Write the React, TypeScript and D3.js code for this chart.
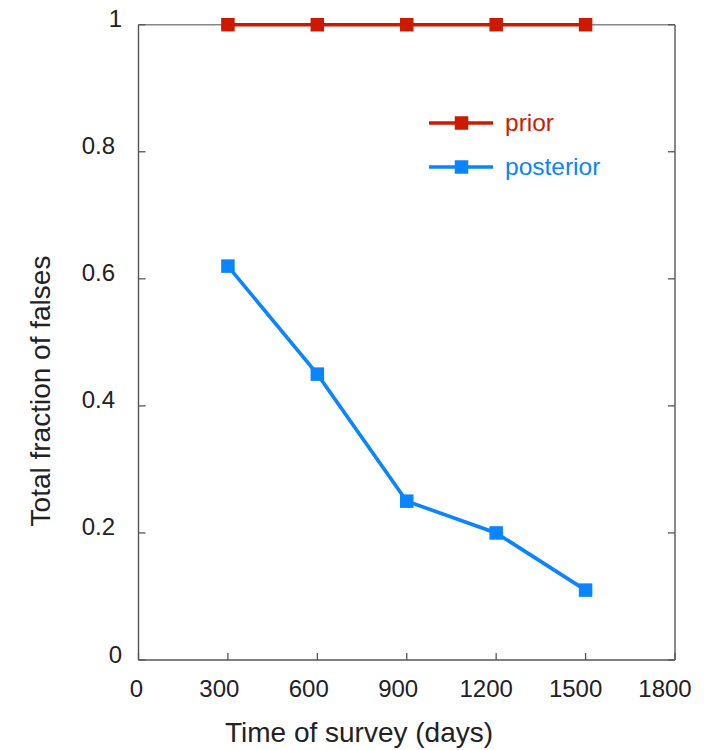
import React from "react";
import * as d3 from "d3";

// Survey durations (days) and the fraction of false detections at each
const surveyDays = [300, 600, 900, 1200, 1500];
const priorFraction = [1, 1, 1, 1, 1];
const posteriorFraction = [0.62, 0.45, 0.25, 0.2, 0.11];

const xTickValues = [0, 300, 600, 900, 1200, 1500, 1800];
const yTickValues = [0, 0.2, 0.4, 0.6, 0.8, 1];
const yTickLabels = ["0", "0.2", "0.4", "0.6", "0.8", "1"];

const seriesNames = ["prior", "posterior"];

const WIDTH = 707;
const HEIGHT = 750;
const FONT = "'Liberation Sans', Arial, Helvetica, sans-serif";
const RED = "#cc1a00";
const BLUE = "#0a84ff";
const AXIS = "#555";
const TEXT = "#222";

export default function App() {
  const x = d3.scaleLinear().domain([0, 1800]).range([138.5, 675]);
  const y = d3.scaleLinear().domain([0, 1]).range([660, 24.7]);

  const line = d3
    .line<[number, number]>()
    .x((d) => x(d[0]))
    .y((d) => y(d[1]));

  const priorPts: [number, number][] = surveyDays.map((d, i) => [d, priorFraction[i]]);
  const postPts: [number, number][] = surveyDays.map((d, i) => [d, posteriorFraction[i]]);

  const [x0, x1] = x.range();
  const [y0, y1] = y.range();
  const tickLen = 7;
  const marker = 13.5;

  const series = [
    { name: seriesNames[0], pts: priorPts, color: RED, legendY: 123 },
    { name: seriesNames[1], pts: postPts, color: BLUE, legendY: 167 },
  ];

  return (
    <svg
      width={WIDTH}
      height={HEIGHT}
      style={{ position: "absolute", left: 0, top: 0, background: "#fff" }}
      fontFamily={FONT}
    >
      <rect x={0} y={0} width={WIDTH} height={HEIGHT} fill="#fff" />

      {/* frame */}
      <line x1={x0} x2={x1} y1={y1} y2={y1} stroke="#888" strokeWidth={1.4} />
      <line x1={x1} x2={x1} y1={y1} y2={y0} stroke={AXIS} strokeWidth={1.4} />
      <line x1={x0} x2={x0} y1={y1} y2={y0} stroke={AXIS} strokeWidth={1.4} />
      <line x1={x0} x2={x1} y1={y0} y2={y0} stroke={AXIS} strokeWidth={1.4} />

      {/* x ticks and labels */}
      {xTickValues.map((v) => {
        const label = String(v);
        const dx = -Math.min(2 + (label.length - 1) * 3.3, 10);
        return (
          <g key={"xt" + v}>
            <line x1={x(v)} x2={x(v)} y1={y0} y2={y0 - tickLen} stroke={AXIS} strokeWidth={1.3} />
            <text x={x(v) + dx} y={696.5} fontSize={24} fill={TEXT} textAnchor="middle">
              {label}
            </text>
          </g>
        );
      })}

      {/* y ticks and labels */}
      {yTickValues.map((v, i) => {
        const label = yTickLabels[i];
        const endX = label.length > 1 ? 115 : 122;
        return (
          <g key={"yt" + v}>
            <line x1={x0} x2={x0 + tickLen} y1={y(v)} y2={y(v)} stroke={AXIS} strokeWidth={1.3} />
            <line x1={x1} x2={x1 - tickLen} y1={y(v)} y2={y(v)} stroke={AXIS} strokeWidth={1.3} />
            <text x={endX} y={y(v) + 2.5} fontSize={24} fill={TEXT} textAnchor="end">
              {label}
            </text>
          </g>
        );
      })}

      {/* axis titles */}
      <text x={359} y={742} fontSize={28} fill={TEXT} textAnchor="middle">
        Time of survey (days)
      </text>
      <text
        transform="translate(50,391) rotate(-90)"
        fontSize={28}
        fill={TEXT}
        textAnchor="middle"
      >
        Total fraction of falses
      </text>

      {/* series */}
      {series.map((s) => (
        <g key={s.name}>
          <path d={line(s.pts) || ""} fill="none" stroke={s.color} strokeWidth={3.6} />
          {s.pts.map((p, i) => (
            <rect
              key={i}
              x={x(p[0]) - marker / 2}
              y={y(p[1]) - marker / 2}
              width={marker}
              height={marker}
              fill={s.color}
            />
          ))}
        </g>
      ))}

      {/* legend */}
      {series.map((s) => (
        <g key={"lg" + s.name}>
          <line x1={429} x2={493} y1={s.legendY} y2={s.legendY} stroke={s.color} strokeWidth={3.6} />
          <rect
            x={461.5 - marker / 2}
            y={s.legendY - marker / 2}
            width={marker}
            height={marker}
            fill={s.color}
          />
          <text x={505} y={s.legendY + 7.5} fontSize={24.5} fill={s.color}>
            {s.name}
          </text>
        </g>
      ))}
    </svg>
  );
}
